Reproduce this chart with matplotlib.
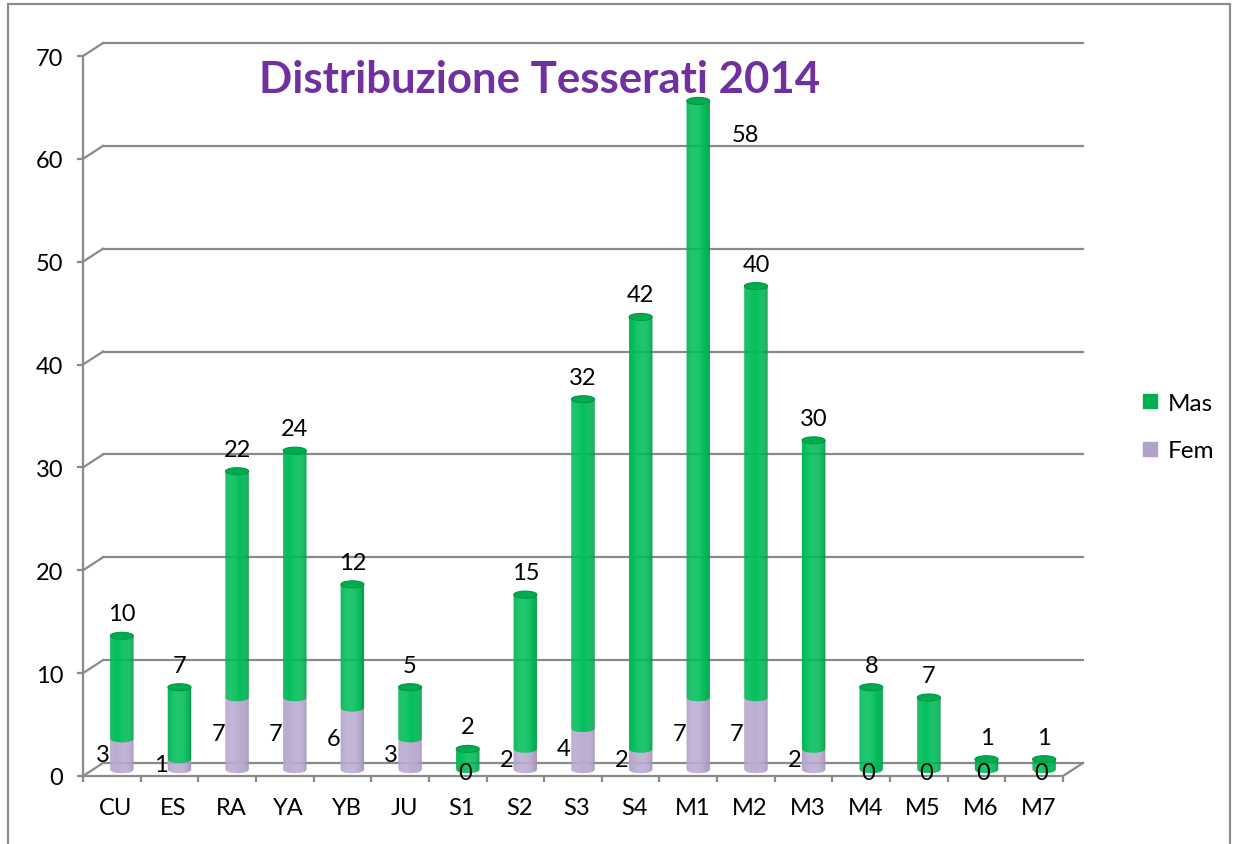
import numpy as np
import matplotlib.pyplot as plt
import matplotlib.colors as mcolors
from matplotlib.patches import Ellipse, Rectangle
from matplotlib.collections import PolyCollection
from matplotlib.lines import Line2D

categories = ["CU", "ES", "RA", "YA", "YB", "JU", "S1", "S2", "S3",
              "S4", "M1", "M2", "M3", "M4", "M5", "M6", "M7"]
fem = [3, 1, 7, 7, 6, 3, 0, 2, 4, 2, 7, 7, 2, 0, 0, 0, 0]
mas = [10, 7, 22, 24, 12, 5, 2, 15, 32, 42, 58, 40, 30, 8, 7, 1, 1]
y_ticks = [0, 10, 20, 30, 40, 50, 60, 70]
title = "Distribuzione Tesserati 2014"

plt.rcParams['font.family'] = ['Lato', 'DejaVu Sans']

GRID = "#8a8a8a"
GREEN_C, GREEN_E = "#00c05a", "#008a3d"
PURP_C, PURP_E = "#bcadd2", "#9384ab"
PT = 72 / 100  # px -> pt
FS = 17

W, H = 1240, 845
fig = plt.figure(figsize=(W / 100, H / 100), dpi=100)
ax_px = (83, 777, 980, 720)  # left, bottom(from top), width, height
ax = fig.add_axes([ax_px[0] / W, (H - ax_px[1]) / H, ax_px[2] / W, ax_px[3] / H])
n = len(categories)
ax.set_xlim(0, n)
ax.set_ylim(0, 70)
ax.patch.set_visible(False)

# depth of the fake 3d box, in data units
ux = ax_px[2] / n          # px per category
uy = ax_px[3] / 70         # px per unit
dx, dy = 20 / ux, 13 / uy
dxm, dym = dx / 2, dy / 2

# back wall gridlines + connectors
for k in y_ticks:
    ax.plot([dx, n + dx], [k + dy, k + dy], color=GRID, lw=1.6, clip_on=False, zorder=1)
    ax.plot([0, dx], [k, k + dy], color=GRID, lw=1.6, clip_on=False, zorder=1)
ax.plot([n, n + dx], [0, dy], color=GRID, lw=1.6, clip_on=False, zorder=1)

for s in ["top", "right"]:
    ax.spines[s].set_visible(False)
for s in ["left", "bottom"]:
    ax.spines[s].set_color(GRID)
    ax.spines[s].set_linewidth(1.6)

ax.set_yticks(y_ticks)
ax.tick_params(axis="y", length=6 * PT, width=1.6, color=GRID, labelsize=FS, pad=10)
ax.set_xticks(np.arange(n + 1))
ax.set_xticklabels([])
ax.set_xticks(np.arange(n) + 0.5 + dxm * 0.4, minor=True)
ax.set_xticklabels(categories, minor=True)
ax.tick_params(axis="x", which="major", length=6 * PT, width=1.6, color=GRID)
ax.tick_params(axis="x", which="minor", length=0, labelsize=FS, pad=15)


def shade(c_center, c_edge, t):
    a = np.array(mcolors.to_rgb(c_center))
    b = np.array(mcolors.to_rgb(c_edge))
    f = np.sqrt(np.clip(1 - ((t + 0.15) / 1.15) ** 2, 0, 1)) ** 0.7
    return tuple(b + (a - b) * f)


bw = 0.4
eh = 7 / uy
N = 24
tt = np.linspace(-1, 1, N + 1)
arc = lambda t: eh / 2 * np.sqrt(np.clip(1 - t ** 2, 0, 1))


def cylinder(xc, y0, y1, cc, ce):
    polys, cols = [], []
    for j in range(N):
        tl, tr = tt[j], tt[j + 1]
        xl, xr = xc + tl * bw / 2, xc + tr * bw / 2
        polys.append([(xl, y0 - arc(tl)), (xr, y0 - arc(tr)),
                      (xr, y1 - arc(tr)), (xl, y1 - arc(tl))])
        cols.append(shade(cc, ce, (tl + tr) / 2))
    ax.add_collection(PolyCollection(polys, facecolors=cols, edgecolors=cols,
                                     linewidths=0.2, zorder=3, clip_on=False))


for i in range(n):
    xc = i + 0.5 + dxm
    base = dym
    if fem[i] > 0:
        cylinder(xc, base, base + fem[i], PURP_C, PURP_E)
    top = base + fem[i] + mas[i]
    cylinder(xc, base + fem[i], top, GREEN_C, GREEN_E)
    ax.add_patch(Ellipse((xc, top), bw, eh, facecolor="#00ad4e",
                         edgecolor="#009443", lw=0.8, zorder=4, clip_on=False))

    # labels
    off = (0, 22)
    if categories[i] == "M1":
        off = (47, -34)  # moved aside to clear the title
    ax.annotate(str(mas[i]), (xc, top), xytext=(off[0] * PT, off[1] * PT),
                textcoords="offset points", ha="center", va="center",
                fontsize=FS, zorder=5, annotation_clip=False)
    if fem[i] > 0:
        ax.annotate(str(fem[i]), (xc, base + fem[i] / 2), xytext=(-19 * PT, 0),
                    textcoords="offset points", ha="center", va="center",
                    fontsize=FS, zorder=5, annotation_clip=False)
    else:
        ax.annotate("0", (xc, base), xytext=(-3 * PT, -3 * PT),
                    textcoords="offset points", ha="center", va="center",
                    fontsize=FS, zorder=5, annotation_clip=False)

fig.text(540 / W, 1 - 80 / H, title, ha="center", va="center", fontsize=31.5,
         fontweight="bold", color="#7030a0")

handles = [Line2D([], [], marker="s", ls="", markersize=9.5, color="#00b050"),
           Line2D([], [], marker="s", ls="", markersize=9.5, color="#b1a0c7")]
fig.legend(handles, ["Mas", "Fem"], loc="center left",
           bbox_to_anchor=(1118 / W, 1 - 428 / H), frameon=False, fontsize=17.5,
           handlelength=0.8, handletextpad=0.35, labelspacing=1.1)

fig.add_artist(Rectangle((8 / W, -0.05), (1230 - 8) / W, 1.05 - 5 / H,
                         transform=fig.transFigure, fill=False,
                         edgecolor="#8c8c8c", lw=1.6))

fig.savefig("out.png", dpi=100)
